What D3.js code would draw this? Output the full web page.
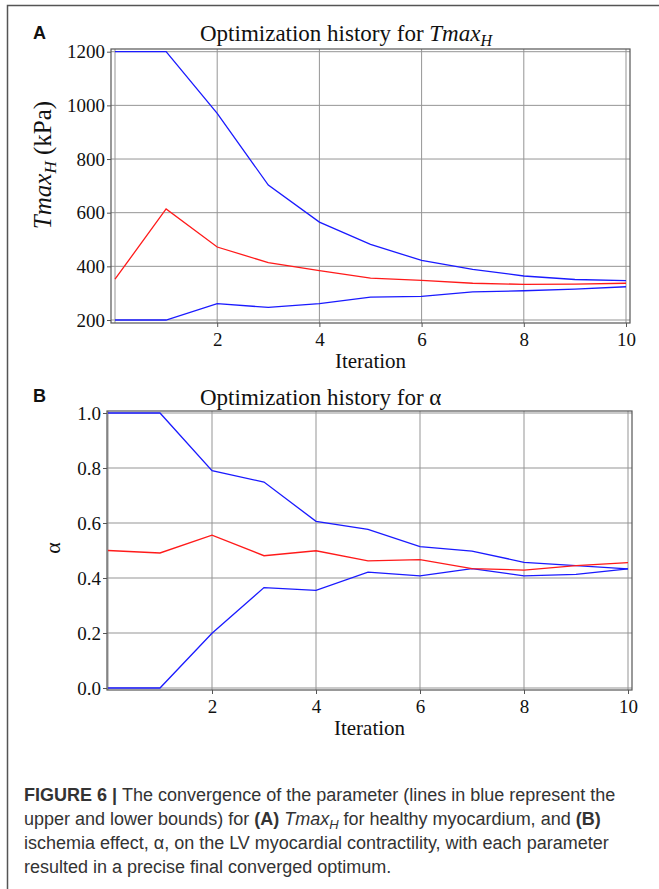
<!DOCTYPE html>
<html>
<head>
<meta charset="utf-8">
<script src="https://cdn.jsdelivr.net/npm/d3@7"></script>
<style>
  body { margin: 0; background: #fff; }
  svg text { font-family: "Liberation Serif", "Times New Roman", serif; fill: #111; }
  .cap { font-family: "Liberation Sans", Arial, sans-serif; font-size: 18px; fill: #333; }
</style>
</head>
<body>
<div id="chart-area"></div>
<script>
// iterations and values
const iterations = [0, 1, 2, 3, 4, 5, 6, 7, 8, 9, 10];
const xTicks = [2, 4, 6, 8, 10];

const tmaxUpper = [1200, 1200, 970, 703, 565, 482, 422, 389, 364, 351, 347];
const tmaxValue = [352, 614, 472, 414, 384, 356, 348, 337, 333, 334, 337];
const tmaxLower = [200, 200, 261, 247, 261, 285, 288, 305, 309, 315, 324];
const tmaxTicks = [200, 400, 600, 800, 1000, 1200];

const alphaUpper = [1.0, 1.0, 0.79, 0.749, 0.606, 0.577, 0.514, 0.498, 0.457, 0.445, 0.433];
const alphaValue = [0.5, 0.491, 0.556, 0.481, 0.499, 0.462, 0.467, 0.434, 0.429, 0.445, 0.456];
const alphaLower = [0.0, 0.0, 0.199, 0.365, 0.355, 0.421, 0.408, 0.434, 0.408, 0.413, 0.433];
const alphaTicks = [0.0, 0.2, 0.4, 0.6, 0.8, 1.0];

const W = 659, H = 889;

const svg = d3.select("#chart-area")
  .append("svg")
    .attr("width", W)
    .attr("height", H);

// outer figure frame
svg.append("path")
    .attr("d", `M7.5,${H} V5.5 H${W}`)
    .attr("fill", "none")
    .attr("stroke", "#555")
    .attr("stroke-width", 1.5);

function drawPanel(p) {
  const x = d3.scaleLinear().domain([0, 10]).range([p.x0, p.x1]);
  const y = d3.scaleLinear().domain(p.yDomain).range([p.yBottom, p.yTop]);
  const g = svg.append("g");

  // grid
  g.selectAll(".vgrid")
    .data([0].concat(xTicks))
    .enter().append("line")
      .attr("x1", d => x(d)).attr("x2", d => x(d))
      .attr("y1", p.frame[1]).attr("y2", p.frame[3])
      .attr("stroke", "#959595").attr("stroke-width", 1);
  g.selectAll(".hgrid")
    .data(p.yTicks)
    .enter().append("line")
      .attr("x1", p.frame[0]).attr("x2", p.frame[2])
      .attr("y1", d => y(d)).attr("y2", d => y(d))
      .attr("stroke", "#959595").attr("stroke-width", 1);

  // frame
  g.append("rect")
      .attr("x", p.frame[0]).attr("y", p.frame[1])
      .attr("width", p.frame[2] - p.frame[0])
      .attr("height", p.frame[3] - p.frame[1])
      .attr("fill", "none").attr("stroke", "#555").attr("stroke-width", 1.2);

  // axes
  const yAxis = g.append("g")
      .attr("transform", `translate(${p.frame[0]},0)`)
      .call(d3.axisLeft(y).tickValues(p.yTicks).tickFormat(p.fmt).tickSize(4).tickPadding(2));
  const xAxis = g.append("g")
      .attr("transform", `translate(0,${p.frame[3]})`)
      .call(d3.axisBottom(x).tickValues(xTicks).tickSize(4).tickPadding(6));
  [xAxis, yAxis].forEach(a => {
    a.select(".domain").remove();
    a.selectAll("line").attr("stroke", "#555");
    a.selectAll("text").style("font-family", "Liberation Serif, serif")
      .style("font-size", "19px").attr("fill", "#111");
  });

  // lines
  const line = d3.line().x((d, i) => x(iterations[i])).y(d => y(d));
  [[p.upper, "#1a1aff"], [p.lower, "#1a1aff"], [p.value, "#ff1a1a"]].forEach(s => {
    g.append("path")
        .datum(s[0])
        .attr("d", line)
        .attr("fill", "none")
        .attr("stroke", s[1])
        .attr("stroke-width", 1.3);
  });

  // labels
  g.append("text")
      .attr("x", (p.frame[0] + p.frame[2]) / 2)
      .attr("y", p.frame[3] + 45)
      .attr("text-anchor", "middle")
      .style("font-size", "21px")
      .text("Iteration");

  g.append("text")
      .attr("x", 33).attr("y", p.letterY)
      .style("font-family", "Liberation Sans, Arial, sans-serif")
      .style("font-weight", "bold").style("font-size", "18px")
      .text(p.letter);

  return g;
}

const gA = drawPanel({
  letter: "A", letterY: 39,
  x0: 115, x1: 626, yTop: 51.7, yBottom: 320, yDomain: [200, 1200],
  frame: [111, 49, 630, 323],
  yTicks: tmaxTicks, fmt: d3.format("d"),
  upper: tmaxUpper, value: tmaxValue, lower: tmaxLower
});

const gB = drawPanel({
  letter: "B", letterY: 402,
  x0: 108, x1: 628, yTop: 413, yBottom: 688, yDomain: [0, 1],
  frame: [107, 411, 632, 690],
  yTicks: alphaTicks, fmt: d3.format(".1f"),
  upper: alphaUpper, value: alphaValue, lower: alphaLower
});

// titles
const tA = gA.append("text")
    .attr("x", 200).attr("y", 41)
    .style("font-size", "23px");
tA.append("tspan").text("Optimization history for ");
tA.append("tspan").style("font-style", "italic").text("Tmax");
tA.append("tspan").style("font-style", "italic").style("font-size", "16px")
  .attr("dy", 5).text("H");

gB.append("text")
    .attr("x", 200).attr("y", 405)
    .style("font-size", "23px")
    .text("Optimization history for α");

// y labels
const yA = gA.append("text")
    .attr("transform", "translate(51,165) rotate(-90)")
    .attr("text-anchor", "middle")
    .style("font-size", "25px");
yA.append("tspan").style("font-style", "italic").text("Tmax");
yA.append("tspan").style("font-style", "italic").style("font-size", "17px")
  .attr("dy", 5).text("H");
yA.append("tspan").attr("dy", -5).text(" (kPa)");

gB.append("text")
    .attr("transform", "translate(60,548) rotate(-90)")
    .attr("text-anchor", "middle")
    .style("font-size", "22px")
    .text("α");

// caption
const capLines = [
  [["b", "FIGURE 6 | "], ["", "The convergence of the parameter (lines in blue represent the"]],
  [["", "upper and lower bounds) for "], ["b", "(A) "], ["i", "Tmax"], ["sub", "H"],
   ["", " for healthy myocardium, and "], ["b", "(B)"]],
  [["", "ischemia effect, α, on the LV myocardial contractility, with each parameter"]],
  [["", "resulted in a precise final converged optimum."]]
];
capLines.forEach((parts, i) => {
  const t = svg.append("text")
      .attr("class", "cap")
      .attr("x", 24)
      .attr("y", 801 + i * 24);
  let shifted = false;
  parts.forEach(pt => {
    const s = t.append("tspan").text(pt[1]);
    if (shifted) { s.attr("dy", -4); shifted = false; }
    if (pt[0] === "b") s.style("font-weight", "bold");
    if (pt[0] === "i") s.style("font-style", "italic");
    if (pt[0] === "sub") {
      s.style("font-style", "italic").style("font-size", "13px").attr("dy", 4);
      shifted = true;
    }
  });
});
</script>
</body>
</html>
